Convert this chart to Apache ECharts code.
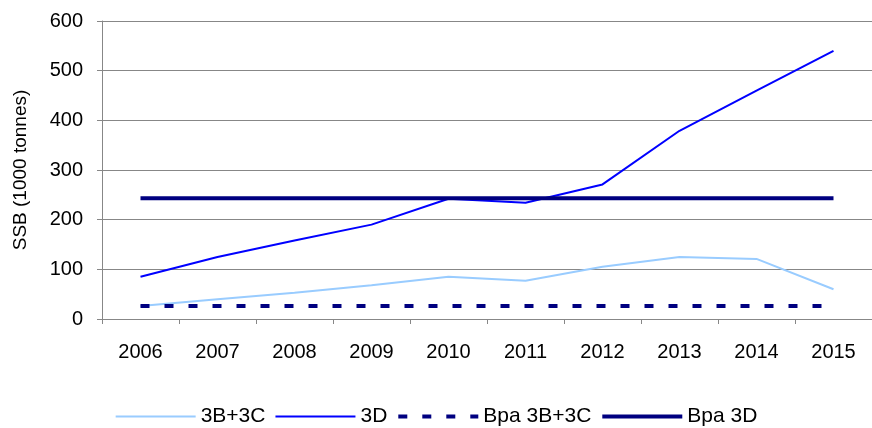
<!DOCTYPE html>
<html>
<head>
<meta charset="utf-8">
<script src="https://cdn.jsdelivr.net/npm/echarts@6/dist/echarts.min.js"></script>
<style>
  html, body { margin: 0; padding: 0; background: #fff; }
  #chart { width: 872px; height: 428px; }
</style>
</head>
<body>
<div id="chart"></div>
<script>
// Spawning stock biomass by year (1000 tonnes)
var years = ['2006', '2007', '2008', '2009', '2010', '2011', '2012', '2013', '2014', '2015'];
var ssb3B3C = [26, 40, 53, 68, 85, 77, 105, 125, 121, 60];
var ssb3D = [85, 125, 158, 190, 242, 234, 271, 379, 460, 540];
var bpa3B3C = [26, 26, 26, 26, 26, 26, 26, 26, 26, 26];
var bpa3D = [243, 243, 243, 243, 243, 243, 243, 243, 243, 243];
var seriesNames = ['3B+3C', '3D', 'Bpa 3B+3C', 'Bpa 3D'];
var yAxisTitle = 'SSB (1000 tonnes)';

var font = 'Liberation Sans, Arial, sans-serif';
var gray = '#878787';

// line styles per series, shared by the plot and the legend keys
var styles = [
  { color: '#99ccff', width: 2, type: 'solid' },
  { color: '#0000ff', width: 2, type: 'solid' },
  { color: '#000080', width: 4, type: [9, 15] },
  { color: '#000080', width: 4, type: 'solid' }
];
var seriesData = [ssb3B3C, ssb3D, bpa3B3C, bpa3D];

var chart = echarts.init(document.getElementById('chart'), null, { renderer: 'canvas' });

chart.setOption({
  animation: false,
  backgroundColor: '#ffffff',
  grid: { left: 102, top: 21, width: 777, height: 298, containLabel: false },
  xAxis: {
    type: 'category',
    data: years,
    boundaryGap: true,
    axisLine: { show: true, lineStyle: { color: gray, width: 1 } },
    axisTick: { show: true, length: 5, lineStyle: { color: gray } },
    axisLabel: { color: '#000', fontFamily: font, fontSize: 20, margin: 23 },
    splitLine: { show: false }
  },
  yAxis: {
    type: 'value',
    min: 0,
    max: 600,
    interval: 100,
    name: yAxisTitle,
    nameLocation: 'middle',
    nameGap: 72,
    nameRotate: 90,
    nameTextStyle: { color: '#000', fontFamily: font, fontSize: 19 },
    axisLine: { show: true, lineStyle: { color: gray, width: 1 } },
    axisTick: { show: true, length: 5, lineStyle: { color: gray } },
    axisLabel: { color: '#000', fontFamily: font, fontSize: 20, margin: 19 },
    splitLine: { show: true, lineStyle: { color: gray, width: 1 } }
  },
  legend: {
    data: seriesNames.map(function (n, i) {
      return { name: n, lineStyle: styles[i], itemStyle: { opacity: 0 } };
    }),
    top: 406,
    left: 'center',
    padding: 0,
    itemWidth: 80,
    itemHeight: 20,
    itemGap: 9,
    itemStyle: { opacity: 0, borderWidth: 0 },
    textStyle: { color: '#000', fontFamily: font, fontSize: 21 }
  },
  series: seriesNames.map(function (n, i) {
    return {
      name: n,
      type: 'line',
      data: seriesData[i],
      symbol: 'none',
      showSymbol: false,
      animation: false,
      lineStyle: styles[i],
      itemStyle: { color: styles[i].color }
    };
  })
});
</script>
</body>
</html>
